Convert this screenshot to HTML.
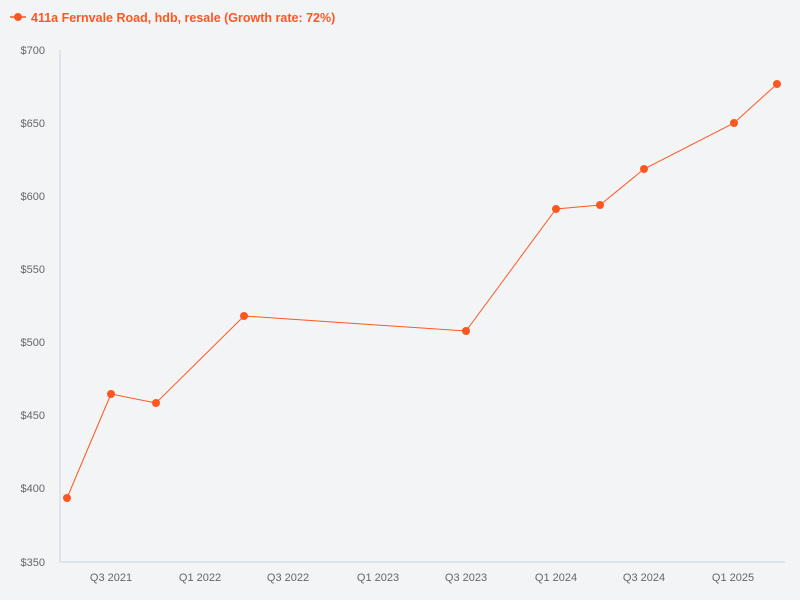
<!DOCTYPE html>
<html><head><style>
html,body{margin:0;padding:0;background:#f3f4f6;}
svg{display:block;font-family:"Liberation Sans",sans-serif;}
</style></head><body>
<svg width="800" height="600" xmlns="http://www.w3.org/2000/svg">
<rect width="800" height="600" fill="#f3f4f6"/>
<line x1="10" y1="17" x2="26" y2="17" stroke="#ff5722" stroke-width="1.5"/>
<circle cx="18" cy="17" r="4" fill="#ff5722"/>
<text x="31" y="22" font-size="12.5" font-weight="bold" fill="#ff5722">411a Fernvale Road, hdb, resale (Growth rate: 72%)</text>
<line x1="60" y1="50" x2="60" y2="562" stroke="#c9d5e6" stroke-width="1"/>
<line x1="60" y1="562" x2="785" y2="562" stroke="#c9d5e6" stroke-width="1"/>
<g font-size="11" fill="#666" text-anchor="end">
<text x="45" y="54">$700</text>
<text x="45" y="127">$650</text>
<text x="45" y="200">$600</text>
<text x="45" y="273">$550</text>
<text x="45" y="346">$500</text>
<text x="45" y="419">$450</text>
<text x="45" y="492">$400</text>
<text x="45" y="566">$350</text>
</g>
<g font-size="11" fill="#666" text-anchor="middle">
<text x="111" y="581">Q3 2021</text>
<text x="200" y="581">Q1 2022</text>
<text x="288" y="581">Q3 2022</text>
<text x="378" y="581">Q1 2023</text>
<text x="466" y="581">Q3 2023</text>
<text x="556" y="581">Q1 2024</text>
<text x="644" y="581">Q3 2024</text>
<text x="733" y="581">Q1 2025</text>
</g>
<polyline fill="none" stroke="#ff5722" stroke-width="1" points="67,498 111,394 156,403 244,316 466,331 556,209 600,205 644,169 734,123 777,84"/>
<g fill="#ff5722">
<circle cx="67" cy="498" r="4"/><circle cx="111" cy="394" r="4"/><circle cx="156" cy="403" r="4"/><circle cx="244" cy="316" r="4"/><circle cx="466" cy="331" r="4"/><circle cx="556" cy="209" r="4"/><circle cx="600" cy="205" r="4"/><circle cx="644" cy="169" r="4"/><circle cx="734" cy="123" r="4"/><circle cx="777" cy="84" r="4"/>
</g>
</svg>
</body></html>
